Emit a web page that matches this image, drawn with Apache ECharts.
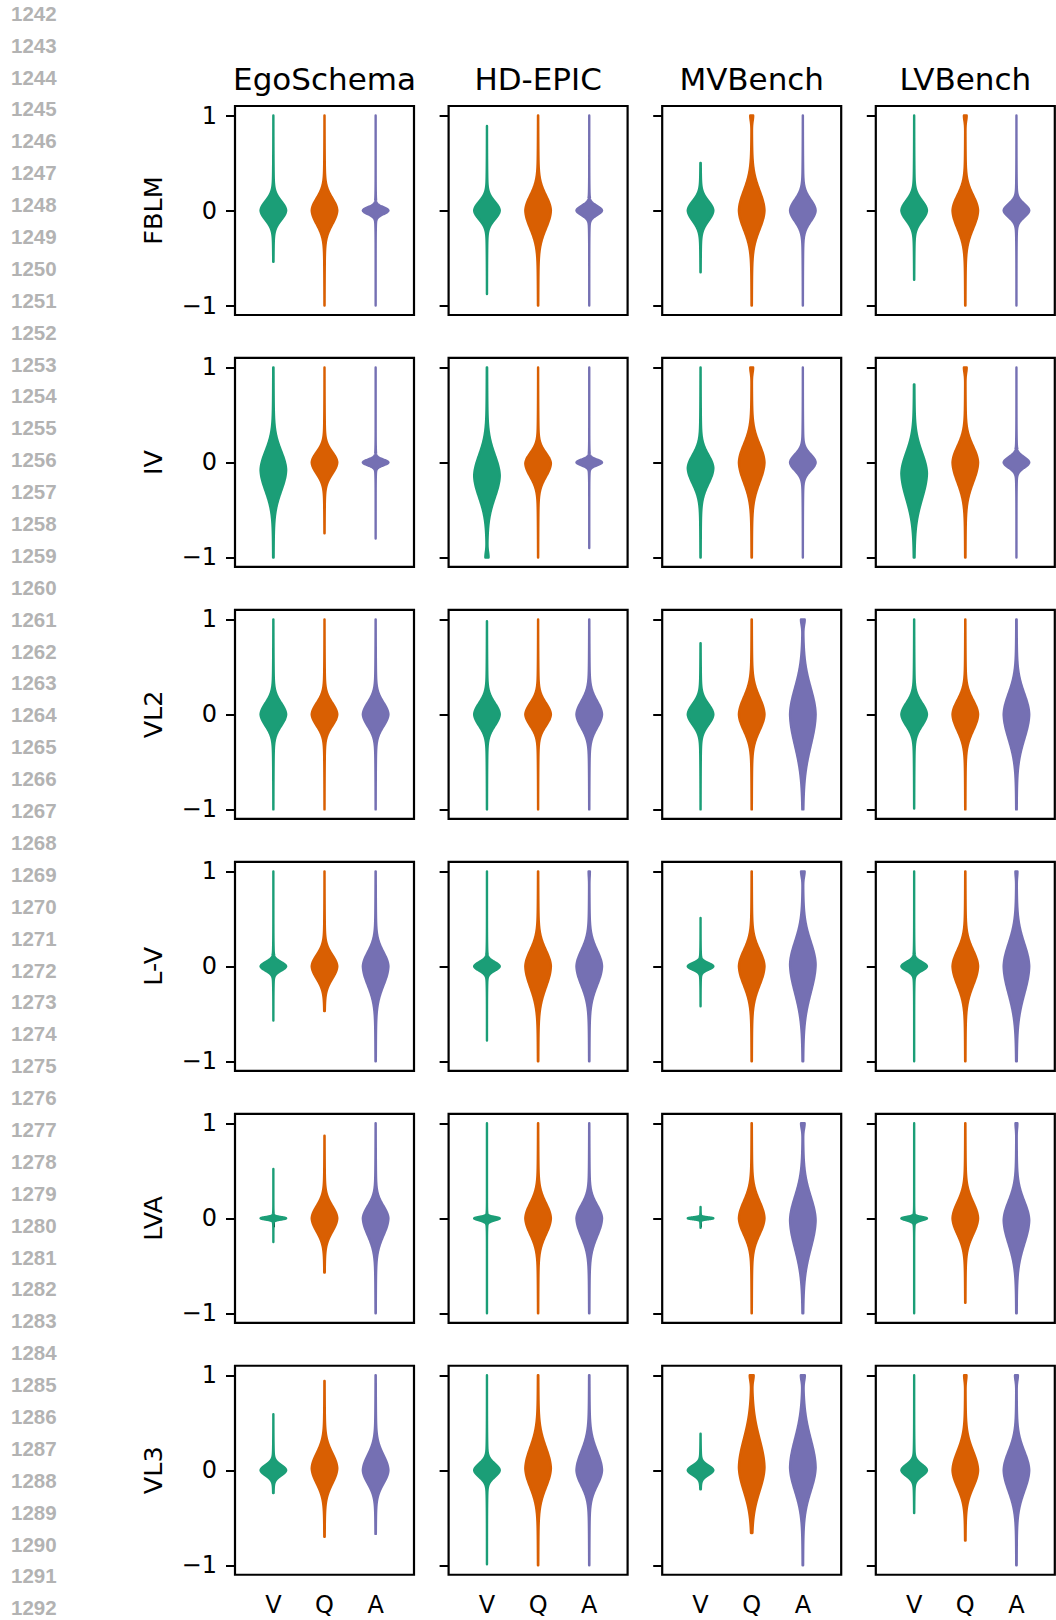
<!DOCTYPE html>
<html><head><meta charset="utf-8">
<script src="https://cdn.jsdelivr.net/npm/echarts@6/dist/echarts.min.js"></script>
<style>html,body{margin:0;padding:0;background:#fff}#chart{width:1056px;height:1620px}</style>
</head><body><div id="chart"></div>
<script>
// ---- data ----
const models = ['FBLM', 'IV', 'VL2', 'L-V', 'LVA', 'VL3'];
const benchmarks = ['EgoSchema', 'HD-EPIC', 'MVBench', 'LVBench'];
const parts = ['V', 'Q', 'A'];
const partPositions = [1, 2, 3];
const partColors = ['#1b9e77', '#d95f02', '#7570b3'];
const yTicks = [-1, 0, 1];
// each violin: [min, max, mode, spreadUp, spreadDown, massAtTop, massAtBottom]
// rows: EgoSchema, HD-EPIC, MVBench, LVBench ; columns: V, Q, A
const FBLM = [
  [[-0.54, 1, 0, 0.1, 0.1, 0, 0], [-1, 1, 0, 0.13, 0.145, 0, 0], [-1, 1, 0, 0.034, 0.038, 0, 0]],
  [[-0.88, 0.89, 0, 0.094, 0.094, 0, 0], [-1, 1, 0, 0.16, 0.19, 0, 0], [-1, 1, 0, 0.048, 0.048, 0, 0]],
  [[-0.65, 0.5, 0, 0.1, 0.11, 0, 0], [-1, 1, 0, 0.21, 0.2, 0.1, 0], [-1, 1, 0, 0.115, 0.115, 0, 0]],
  [[-0.73, 1, 0, 0.105, 0.105, 0, 0], [-1, 1, 0, 0.16, 0.19, 0.1, 0], [-1, 1, 0, 0.07, 0.07, 0, 0]]
];
const IV = [
  [[-1, 1, -0.08, 0.2, 0.22, 0, 0], [-0.745, 1, 0, 0.11, 0.12, 0, 0], [-0.8, 1, 0, 0.03, 0.03, 0, 0]],
  [[-1, 1, -0.14, 0.22, 0.23, 0, 0.1], [-1, 1, -0.01, 0.11, 0.14, 0, 0], [-0.9, 1, 0, 0.03, 0.03, 0, 0]],
  [[-1, 1, -0.06, 0.14, 0.165, 0, 0], [-1, 1, 0, 0.19, 0.21, 0.1, 0], [-1, 1, 0, 0.085, 0.085, 0, 0]],
  [[-1, 0.82, -0.115, 0.22, 0.27, 0, 0], [-1, 1, 0, 0.17, 0.21, 0.1, 0], [-1, 1, 0, 0.055, 0.055, 0, 0]]
];
const VL2 = [
  [[-1, 1, 0, 0.12, 0.12, 0, 0], [-1, 1, 0, 0.12, 0.12, 0, 0], [-1, 1, 0, 0.125, 0.125, 0, 0]],
  [[-1, 0.98, 0, 0.12, 0.12, 0, 0], [-1, 1, 0, 0.12, 0.12, 0, 0], [-1, 1, 0, 0.14, 0.14, 0, 0]],
  [[-1, 0.75, 0, 0.11, 0.11, 0, 0], [-1, 1, 0, 0.18, 0.17, 0, 0], [-1, 1, 0, 0.28, 0.33, 0.12, 0]],
  [[-0.99, 1, 0, 0.12, 0.12, 0, 0], [-1, 1, 0, 0.15, 0.17, 0, 0], [-1, 1, 0, 0.22, 0.26, 0, 0]]
];
const LV = [
  [[-0.57, 1, 0, 0.045, 0.045, 0, 0], [-0.47, 1, 0, 0.12, 0.13, 0, 0], [-1, 1, 0, 0.15, 0.2, 0, 0]],
  [[-0.78, 1, 0, 0.045, 0.045, 0, 0], [-1, 1, 0, 0.17, 0.22, 0, 0], [-1, 1, 0, 0.17, 0.2, 0.04, 0]],
  [[-0.42, 0.51, 0, 0.035, 0.035, 0, 0], [-1, 1, 0, 0.17, 0.2, 0, 0], [-1, 1, 0.02, 0.24, 0.3, 0.12, 0]],
  [[-1, 1, 0, 0.045, 0.045, 0, 0], [-1, 1, 0, 0.17, 0.2, 0, 0], [-1, 1, 0, 0.24, 0.29, 0.06, 0]]
];
const LVA = [
  [[-0.25, 0.52, 0, 0.013, 0.013, 0, 0], [-0.57, 0.87, 0, 0.13, 0.14, 0, 0], [-1, 1, 0, 0.13, 0.18, 0, 0]],
  [[-1, 1, 0, 0.015, 0.022, 0, 0], [-1, 1, 0, 0.16, 0.17, 0, 0], [-1, 1, 0, 0.14, 0.19, 0, 0]],
  [[-0.1, 0.12, 0, 0.01, 0.01, 0, 0], [-1, 1, 0, 0.18, 0.17, 0, 0], [-1, 1, -0.02, 0.25, 0.3, 0.12, 0]],
  [[-1, 1, 0, 0.015, 0.022, 0, 0], [-0.89, 1, 0, 0.17, 0.17, 0, 0], [-1, 1, -0.02, 0.2, 0.25, 0.06, 0]]
];
const VL3 = [
  [[-0.24, 0.59, 0, 0.055, 0.055, 0, 0], [-0.7, 0.94, 0.02, 0.16, 0.16, 0, 0], [-0.67, 1, 0, 0.16, 0.14, 0, 0]],
  [[-0.99, 1, 0, 0.07, 0.07, 0, 0], [-1, 1, 0.02, 0.22, 0.2, 0, 0], [-1, 1, 0, 0.2, 0.16, 0, 0]],
  [[-0.2, 0.385, 0, 0.05, 0.05, 0, 0], [-0.66, 1, 0.03, 0.3, 0.25, 0.12, 0], [-1, 1, 0.03, 0.3, 0.25, 0.12, 0]],
  [[-0.45, 1, 0, 0.06, 0.06, 0, 0], [-0.74, 1, 0, 0.2, 0.18, 0.08, 0], [-1, 1, 0, 0.2, 0.22, 0.1, 0]]
];
const modelData = [FBLM, IV, VL2, LV, LVA, VL3];
const firstLineNo = 1242, lastLineNo = 1292;

// ---- layout / style ----
const GL = 235, GDX = 213.6, GW = 179, GT = 106, GDY = 251.95, GH = 209;
const HALF_WIDTH = 0.25;
const TAIL_WEIGHT = 0.12, TAIL_SCALE = 2.3, CAP_SCALE = 0.055;
const FONT = 'DejaVu Sans';

function renderViolin(params, api) {
  const pos = api.value(0), lo = api.value(1), hi = api.value(2), mode = api.value(3),
        su = api.value(4), sd = api.value(5), capT = api.value(6), capB = api.value(7);
  const color = api.visual('color');
  const ys = [];
  const N = 800;
  for (let i = 0; i <= N; i++) ys.push(lo + (hi - lo) * i / N);
  ys.push(mode);
  ys.sort((a, b) => a - b);
  const dens = ys.map(y => {
    const d = y - mode;
    const s = d >= 0 ? su : sd;
    let f = (1 - TAIL_WEIGHT) * Math.exp(-0.5 * (d / s) * (d / s)) +
            TAIL_WEIGHT * Math.exp(-Math.abs(d) / (TAIL_SCALE * s));
    f += capT * Math.exp(-0.5 * Math.pow((hi - y) / CAP_SCALE, 2));
    f += capB * Math.exp(-0.5 * Math.pow((y - lo) / CAP_SCALE, 2));
    return f;
  });
  let fmax = 0;
  dens.forEach(f => { if (f > fmax) fmax = f; });
  const right = [], left = [];
  ys.forEach((y, i) => {
    const hw = HALF_WIDTH * dens[i] / fmax;
    right.push(api.coord([pos + hw, y]));
    left.push(api.coord([pos - hw, y]));
  });
  const pts = right.concat(left.reverse());
  return {
    type: 'polygon',
    shape: { points: pts },
    style: { fill: color, stroke: color, lineWidth: 2.4, lineJoin: 'round' }
  };
}

const grid = [], xAxis = [], yAxis = [], series = [], graphic = [];
models.forEach((m, r) => {
  benchmarks.forEach((b, c) => {
    const k = r * benchmarks.length + c;
    grid.push({
      left: GL + GDX * c, top: GT + GDY * r, width: GW, height: GH,
      show: true, borderColor: '#000', borderWidth: 2.2, backgroundColor: 'transparent'
    });
    xAxis.push({
      gridIndex: k, type: 'value', min: 0.25, max: 3.75,
      axisLine: { show: false }, splitLine: { show: false },
      axisTick: { show: true, customValues: partPositions, length: 9, lineStyle: { color: '#000', width: 2 } },
      axisLabel: {
        show: r === models.length - 1, customValues: partPositions,
        formatter: v => parts[Math.round(v) - 1], fontSize: 24, color: '#000', fontFamily: FONT, margin: 18
      }
    });
    yAxis.push({
      gridIndex: k, type: 'value', min: -1.1, max: 1.1,
      axisLine: { show: false }, splitLine: { show: false },
      axisTick: { show: true, customValues: yTicks, length: 9, lineStyle: { color: '#000', width: 2 } },
      axisLabel: {
        show: c === 0, customValues: yTicks,
        formatter: v => (v < 0 ? '\u2212' + Math.abs(v) : String(v)),
        fontSize: 24, color: '#000', fontFamily: FONT, margin: 18
      }
    });
    series.push({
      type: 'custom', coordinateSystem: 'cartesian2d', xAxisIndex: k, yAxisIndex: k,
      renderItem: renderViolin, clip: false, silent: true,
      encode: { x: 0, y: [1, 2] },
      data: modelData[r][c].map((v, i) => ({ value: [partPositions[i]].concat(v), itemStyle: { color: partColors[i] } }))
    });
  });
  graphic.push({
    type: 'text', x: 153, y: GT + GDY * r + GH / 2, rotation: Math.PI / 2,
    style: { text: m, fontSize: 25.5, fontFamily: FONT, fill: '#000', align: 'center', verticalAlign: 'middle', textAlign: 'center', textVerticalAlign: 'middle' }
  });
});
benchmarks.forEach((b, c) => {
  graphic.push({
    type: 'text', x: GL + GDX * c + GW / 2, y: 79,
    style: { text: b, fontSize: 31, fontFamily: FONT, fill: '#000', align: 'center', verticalAlign: 'middle', textAlign: 'center', textVerticalAlign: 'middle' }
  });
});
for (let n = firstLineNo; n <= lastLineNo; n++) {
  graphic.push({
    type: 'text', x: 11, y: 13.3 + (n - firstLineNo) * 31.89,
    style: { text: String(n), fontSize: 20.5, fontWeight: 'bold', fontFamily: 'Liberation Sans', fill: '#b3b3b3', align: 'left', verticalAlign: 'middle', textAlign: 'left', textVerticalAlign: 'middle' }
  });
}

const chart = echarts.init(document.getElementById('chart'), null, { renderer: 'svg', width: 1056, height: 1620 });
chart.setOption({ animation: false, backgroundColor: '#fff', grid, xAxis, yAxis, series, graphic });
</script></body></html>
